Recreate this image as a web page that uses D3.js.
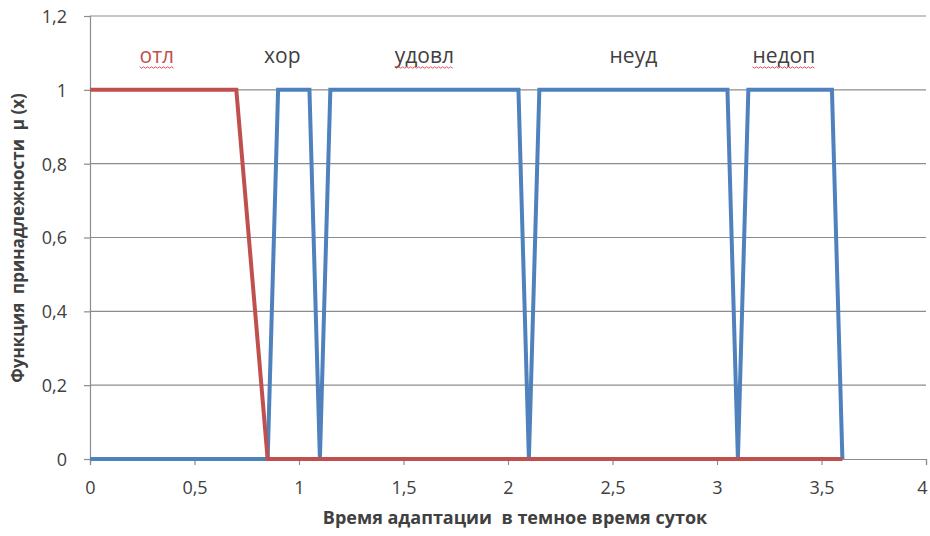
<!DOCTYPE html>
<html>
<head>
<meta charset="utf-8">
<script src="https://cdn.jsdelivr.net/npm/d3@7"></script>
<style>
  body { margin: 0; background: #fff; }
  svg { display: block; }
  text { font-family: "Open Sans", "DejaVu Sans", sans-serif; fill: #404040; }
</style>
</head>
<body>
<div id="chart"></div>
<script>
// data
var otlX = [0, 0.7, 0.85, 3.6];
var otlY = [1, 1, 0, 0];

var blueX = [0, 0.85, 0.9, 1.05, 1.1, 1.15, 2.05, 2.1, 2.15, 3.05, 3.1, 3.15, 3.55, 3.6];
var blueY = [0, 0, 1, 1, 0, 1, 1, 0, 1, 1, 0, 1, 1, 0];

var xTicks = [0, 0.5, 1, 1.5, 2, 2.5, 3, 3.5, 4];
var yTicks = [0, 0.2, 0.4, 0.6, 0.8, 1, 1.2];

// category labels along the top (x position in data units)
var termNames = ["отл", "хор", "удовл", "неуд", "недоп"];
var termPos = [0.32, 0.92, 1.6, 2.6, 3.32];
var termSpell = [true, false, true, false, true];

var svgWidth = 930, svgHeight = 536;
var margin = {top: 16, right: 4, bottom: 77, left: 90};

var svg = d3.select("#chart").append("svg")
  .attr("width", svgWidth)
  .attr("height", svgHeight);

var x = d3.scaleLinear().domain([0, 4]).range([margin.left, svgWidth - margin.right]);
var y = d3.scaleLinear().domain([0, 1.2]).range([svgHeight - margin.bottom, margin.top]);

var fmt = function(d) { return String(d).replace(".", ","); };

// gridlines
svg.append("g")
  .selectAll("line")
  .data(yTicks.filter(d => d > 0))
  .enter().append("line")
  .attr("x1", x(0)).attr("x2", x(4))
  .attr("y1", d => y(d)).attr("y2", d => y(d))
  .attr("stroke", "#8c8c8c").attr("stroke-width", 1.2);

// y axis
var yAxis = svg.append("g")
  .attr("transform", `translate(${x(0)},0)`)
  .call(d3.axisLeft(y).tickValues(yTicks).tickFormat(fmt).tickSize(6).tickPadding(17));

// x axis
var xAxis = svg.append("g")
  .attr("transform", `translate(0,${y(0)})`)
  .call(d3.axisBottom(x).tickValues(xTicks).tickFormat(fmt).tickSize(6).tickPadding(15));

[xAxis, yAxis].forEach(function(g) {
  g.select(".domain").attr("stroke", "#8c8c8c").attr("stroke-width", 1.2);
  g.selectAll(".tick line").attr("stroke", "#8c8c8c").attr("stroke-width", 1.2);
  g.selectAll(".tick text")
    .attr("fill", "#404040")
    .style("font-family", '"Open Sans", sans-serif')
    .style("font-size", "18px");
});
yAxis.selectAll(".tick text").attr("dy", "0.36em");
xAxis.selectAll(".tick text").attr("dy", "0.8em");
// keep the last label inside the page
xAxis.selectAll(".tick text").filter(d => d === 4).attr("dx", -4);

var line = d3.line().x(d => x(d[0])).y(d => y(d[1]));

svg.append("path")
  .datum(blueX.map((v, i) => [v, blueY[i]]))
  .attr("d", line)
  .attr("fill", "none")
  .attr("stroke", "#4f81bd")
  .attr("stroke-width", 4)
  .attr("stroke-linejoin", "miter");

svg.append("path")
  .datum(otlX.map((v, i) => [v, otlY[i]]))
  .attr("d", line)
  .attr("fill", "none")
  .attr("stroke", "#c0504d")
  .attr("stroke-width", 4)
  .attr("stroke-linejoin", "miter");

// labels on top
var labels = svg.append("g");
termNames.forEach(function(name, i) {
  var t = labels.append("text")
    .attr("x", x(termPos[i]))
    .attr("y", 63)
    .attr("text-anchor", "middle")
    .style("font-size", "21px")
    .style("fill", i === 0 ? "#c0504d" : "#404040")
    .text(name);
  if (termSpell[i]) {
    var bb = t.node().getBBox();
    var pts = [];
    for (var k = 0; k <= Math.floor(bb.width / 2); k++) {
      pts.push([bb.x + k * 2, 67 + (k % 2 ? 1.2 : -0.2)]);
    }
    labels.append("path")
      .attr("d", d3.line()(pts))
      .attr("fill", "none")
      .attr("stroke", "#e04040")
      .attr("stroke-width", 0.9);
  }
});

// axis titles
svg.append("text")
  .attr("x", 515)
  .attr("y", 524)
  .attr("text-anchor", "middle")
  .style("font-size", "18px")
  .style("font-weight", "bold")
  .style("white-space", "pre")
  .text("Время адаптации  в темное время суток");

svg.append("text")
  .attr("transform", `translate(24,${238}) rotate(-90)`)
  .attr("text-anchor", "middle")
  .style("font-size", "17px")
  .style("font-weight", "bold")
  .style("white-space", "pre")
  .text("Функция  принадлежности  μ (x)");
</script>
</body>
</html>
